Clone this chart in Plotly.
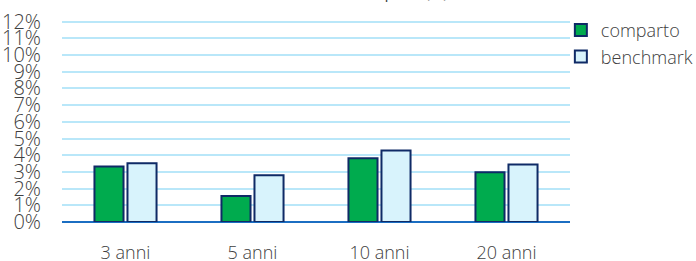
import plotly.graph_objects as go

categories = ["3 anni", "5 anni", "10 anni", "20 anni"]
comparto = [3.32, 1.56, 3.82, 2.98]
benchmark = [3.52, 2.80, 4.28, 3.44]
tick_vals = list(range(0, 13))
tick_text = [f"{v}%" for v in tick_vals]

FONT = "Open Sans"
TXT = "#404040"
NAVY = "#0f2a66"

fig = go.Figure()
fig.add_trace(go.Bar(
    name="comparto", x=categories, y=comparto,
    marker=dict(color="#00ab4e", line=dict(color=NAVY, width=2)),
))
fig.add_trace(go.Bar(
    name="benchmark", x=categories, y=benchmark,
    marker=dict(color="#d8f3fc", line=dict(color=NAVY, width=2)),
))

fig.update_layout(
    width=696, height=261,
    margin=dict(l=62, r=126, t=20, b=39, autoexpand=False),
    paper_bgcolor="white", plot_bgcolor="white",
    barmode="group", bargap=0.48, bargroupgap=0.12,
    font=dict(family=FONT, color=TXT),
    showlegend=True,
    legend=dict(
        x=0.982, y=1.04, xanchor="left", yanchor="top",
        font=dict(size=18, color=TXT, family=FONT, weight=300),
        bgcolor="rgba(0,0,0,0)", tracegroupgap=0,
    ),
    xaxis=dict(
        showgrid=False, showline=False, ticks="", automargin=False,
        tickfont=dict(size=18, color=TXT, family=FONT, weight=300),
        ticklabelstandoff=18,
    ),
    yaxis=dict(
        range=[0, 12.1], tickvals=tick_vals, ticktext=tick_text, automargin=False,
        showgrid=True, gridcolor="#b9e7f9", gridwidth=2,
        zeroline=True, zerolinecolor="#1b6ec2", zerolinewidth=2,
        showline=False, ticks="",
        tickfont=dict(size=20, color=TXT, family=FONT, weight=300),
        ticklabelstandoff=20,
    ),
)

fig.add_annotation(
    text="Rendimenti medi annui composti (%)",
    xref="paper", yref="paper", x=0.764, y=1.076,
    xanchor="right", yanchor="bottom", showarrow=False,
    font=dict(size=16, color=TXT, family=FONT),
)

fig.write_html(
    "out.html",
    config={"displayModeBar": False},
    post_script="document.body.style.margin='0';document.body.style.padding='0';",
)
